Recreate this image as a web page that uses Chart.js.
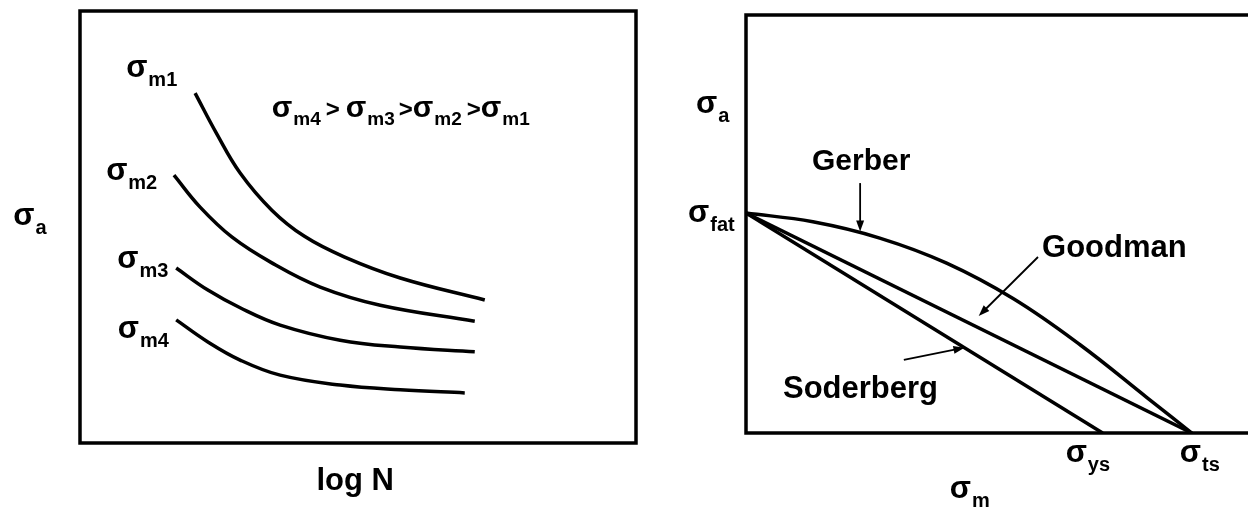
<!DOCTYPE html>
<html>
<head>
<meta charset="utf-8">
<title>Mean stress effects</title>
<script src="https://cdn.jsdelivr.net/npm/chart.js@4.4.1/dist/chart.umd.min.js"></script>
<style>
    html, body { margin: 0; padding: 0; background: #fff; }
    #wrap { position: relative; width: 1248px; height: 510px; overflow: hidden; }
    .panel { position: absolute; top: 0; }
</style>
</head>
<body>
<div id="wrap">
    <div class="panel" style="left:0"><canvas id="snChart" width="640" height="510"></canvas></div>
    <div class="panel" style="left:640px"><canvas id="haighChart" width="608" height="510"></canvas></div>
</div>
<script>
// S-N curves for increasing mean stress (log N on x, sigma_a on y)
const curveM1 = [
    { x: 2.07, y: 8.10 }, { x: 2.45, y: 7.18 }, { x: 2.88, y: 6.25 }, { x: 3.45, y: 5.39 },
    { x: 4.03, y: 4.79 }, { x: 4.75, y: 4.31 }, { x: 5.76, y: 3.82 }, { x: 7.28, y: 3.31 }
];
const curveM2 = [
    { x: 1.69, y: 6.20 }, { x: 2.16, y: 5.46 }, { x: 2.73, y: 4.77 }, { x: 3.45, y: 4.17 },
    { x: 4.32, y: 3.61 }, { x: 5.40, y: 3.19 }, { x: 7.10, y: 2.82 }
];
const curveM3 = [
    { x: 1.73, y: 4.05 }, { x: 2.30, y: 3.54 }, { x: 2.88, y: 3.13 }, { x: 3.60, y: 2.73 },
    { x: 4.68, y: 2.38 }, { x: 5.76, y: 2.22 }, { x: 7.10, y: 2.11 }
];
const curveM4 = [
    { x: 1.73, y: 2.85 }, { x: 2.30, y: 2.34 }, { x: 2.88, y: 1.92 }, { x: 3.60, y: 1.57 },
    { x: 4.68, y: 1.34 }, { x: 5.76, y: 1.23 }, { x: 6.92, y: 1.16 }
];

// Haigh diagram: sigma_m on x, sigma_a on y (sigma_ts = 10, sigma_ys = 8, sigma_fat = 5)
const gerberLine = [
    { x: 0, y: 5.0 }, { x: 1.5, y: 4.80 }, { x: 3, y: 4.43 }, { x: 4.5, y: 3.86 },
    { x: 6, y: 3.05 }, { x: 7.5, y: 2.0 }, { x: 9, y: 0.80 }, { x: 10, y: 0 }
];
const goodmanLine = [{ x: 0, y: 5.0 }, { x: 10, y: 0 }];
const soderbergLine = [{ x: 0, y: 5.0 }, { x: 8, y: 0 }];

// Pointer arrows (from, to) in data units
const gerberArrow = [{ x: 2.56, y: 5.68 }, { x: 2.56, y: 4.58 }];
const goodmanArrow = [{ x: 6.55, y: 4.0 }, { x: 5.22, y: 2.66 }];
const soderbergArrow = [{ x: 3.54, y: 1.66 }, { x: 4.90, y: 1.94 }];

const FONT = '"Liberation Sans", Arial, Helvetica, sans-serif';

document.addEventListener('DOMContentLoaded', function () {

    // 1. Helpers
    // draws a bold sigma with a subscript, returns the total width
    function sigma(ctx, x, y, sub, size, subSize) {
        ctx.font = `bold ${size}px ${FONT}`;
        ctx.fillText('σ', x, y);
        const w = ctx.measureText('σ').width;
        ctx.font = `bold ${subSize}px ${FONT}`;
        ctx.fillText(sub, x + w + 1, y + Math.round(size * 0.28));
        const sw = ctx.measureText(sub).width;
        ctx.font = `bold ${size}px ${FONT}`;
        return w + 1 + sw;
    }

    function word(ctx, x, y, text, size, align) {
        ctx.font = `bold ${size}px ${FONT}`;
        ctx.textAlign = align || 'left';
        ctx.fillText(text, x, y);
        ctx.textAlign = 'left';
    }

    function arrow(ctx, xs, ys, pts) {
        const x1 = xs.getPixelForValue(pts[0].x), y1 = ys.getPixelForValue(pts[0].y);
        const x2 = xs.getPixelForValue(pts[1].x), y2 = ys.getPixelForValue(pts[1].y);
        const a = Math.atan2(y2 - y1, x2 - x1);
        const len = 11, half = 4;
        ctx.save();
        ctx.strokeStyle = '#000';
        ctx.fillStyle = '#000';
        ctx.lineWidth = 1.8;
        ctx.beginPath();
        ctx.moveTo(x1, y1);
        ctx.lineTo(x2 - Math.cos(a) * len * 0.8, y2 - Math.sin(a) * len * 0.8);
        ctx.stroke();
        ctx.beginPath();
        ctx.moveTo(x2, y2);
        ctx.lineTo(x2 - Math.cos(a) * len - Math.sin(a) * half, y2 - Math.sin(a) * len + Math.cos(a) * half);
        ctx.lineTo(x2 - Math.cos(a) * len + Math.sin(a) * half, y2 - Math.sin(a) * len - Math.cos(a) * half);
        ctx.closePath();
        ctx.fill();
        ctx.restore();
    }

    function frame(chart, sides, extendRight) {
        const ctx = chart.ctx, a = chart.chartArea;
        const r = a.right + (extendRight ? 4 : 0);
        ctx.save();
        ctx.strokeStyle = '#000';
        ctx.lineWidth = 3.5;
        ctx.lineCap = 'square';
        ctx.beginPath();
        if (sides.top) { ctx.moveTo(a.left, a.top); ctx.lineTo(r, a.top); }
        if (sides.right) { ctx.moveTo(a.right, a.top); ctx.lineTo(a.right, a.bottom); }
        if (sides.bottom) { ctx.moveTo(a.left, a.bottom); ctx.lineTo(r, a.bottom); }
        if (sides.left) { ctx.moveTo(a.left, a.top); ctx.lineTo(a.left, a.bottom); }
        ctx.stroke();
        ctx.restore();
    }

    function lineSet(points, tension) {
        return {
            data: points,
            borderColor: '#000',
            borderWidth: 3.5,
            pointRadius: 0,
            fill: false,
            showLine: true,
            tension: tension,
            borderCapStyle: 'butt'
        };
    }

    const hiddenScales = (xMax, yMax) => ({
        x: { type: 'linear', display: false, min: 0, max: xMax },
        y: { type: 'linear', display: false, min: 0, max: yMax }
    });

    // 2. Left panel: S-N curves
    const snLabels = {
        id: 'snLabels',
        afterDraw(chart) {
            const ctx = chart.ctx, xs = chart.scales.x, ys = chart.scales.y;
            frame(chart, { top: true, right: true, bottom: true, left: true }, false);
            ctx.save();
            ctx.fillStyle = '#000';
            ctx.textBaseline = 'alphabetic';
            const px = v => xs.getPixelForValue(v), py = v => ys.getPixelForValue(v);

            sigma(ctx, px(0.83), py(8.47), 'm1', 31, 20);
            sigma(ctx, px(0.47), py(6.09), 'm2', 31, 20);
            sigma(ctx, px(0.67), py(4.05), 'm3', 31, 20);
            sigma(ctx, px(0.68), py(2.43), 'm4', 31, 20);

            // ordering of the mean stresses
            let x = px(3.45);
            const y = py(7.55);
            x += sigma(ctx, x, y, 'm4', 30, 19);
            word(ctx, x + 5, y, '>', 24); x += 5 + ctx.measureText('>').width + 6;
            x += sigma(ctx, x, y, 'm3', 30, 19);
            word(ctx, x + 4, y, '>', 24); x += 4 + ctx.measureText('>').width;
            x += sigma(ctx, x, y, 'm2', 30, 19);
            word(ctx, x + 5, y, '>', 24); x += 5 + ctx.measureText('>').width;
            sigma(ctx, x, y, 'm1', 30, 19);

            sigma(ctx, px(-1.2), py(5.05), 'a', 31, 20);
            word(ctx, px(4.95), py(-1.09), 'log N', 31, 'center');
            ctx.restore();
        }
    };

    new Chart(document.getElementById('snChart'), {
        type: 'scatter',
        data: {
            datasets: [lineSet(curveM1, 0.4), lineSet(curveM2, 0.4), lineSet(curveM3, 0.4), lineSet(curveM4, 0.4)]
        },
        options: {
            responsive: false,
            animation: false,
            layout: { padding: { left: 80, top: 11, right: 4, bottom: 67 } },
            plugins: { legend: { display: false }, tooltip: { enabled: false } },
            scales: hiddenScales(10, 10)
        },
        plugins: [snLabels]
    });

    // 3. Right panel: Gerber / Goodman / Soderberg lines
    const haighLabels = {
        id: 'haighLabels',
        afterDraw(chart) {
            const ctx = chart.ctx, xs = chart.scales.x, ys = chart.scales.y;
            frame(chart, { top: true, right: false, bottom: true, left: true }, true);
            ctx.save();
            ctx.fillStyle = '#000';
            const px = v => xs.getPixelForValue(v), py = v => ys.getPixelForValue(v);

            sigma(ctx, px(-1.12), py(7.27), 'a', 31, 20);
            sigma(ctx, px(-1.30), py(4.80), 'fat', 31, 20);
            sigma(ctx, px(7.17), py(-0.66), 'ys', 31, 20);
            sigma(ctx, px(9.73), py(-0.66), 'ts', 31, 20);
            sigma(ctx, px(4.57), py(-1.48), 'm', 31, 20);

            word(ctx, px(1.48), py(5.98), 'Gerber', 30);
            word(ctx, px(6.64), py(4.0), 'Goodman', 31);
            word(ctx, px(0.83), py(0.80), 'Soderberg', 31);

            arrow(ctx, xs, ys, gerberArrow);
            arrow(ctx, xs, ys, goodmanArrow);
            arrow(ctx, xs, ys, soderbergArrow);
            ctx.restore();
        }
    };

    new Chart(document.getElementById('haighChart'), {
        type: 'scatter',
        data: {
            datasets: [lineSet(gerberLine, 0.4), lineSet(goodmanLine, 0), lineSet(soderbergLine, 0)]
        },
        options: {
            responsive: false,
            animation: false,
            layout: { padding: { left: 106, top: 15, right: 0, bottom: 77 } },
            plugins: { legend: { display: false }, tooltip: { enabled: false } },
            scales: hiddenScales(11.26, 9.5)
        },
        plugins: [haighLabels]
    });
});
</script>
</body>
</html>
